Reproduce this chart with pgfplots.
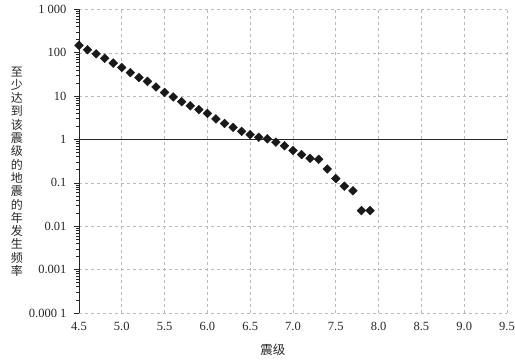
\documentclass[border=0pt]{standalone}
\usepackage{pgfplots}
\pgfplotsset{compat=1.18}
\usepackage{fontspec}
\setmainfont{Liberation Serif}
\newfontfamily\cjk{Noto Sans CJK SC}
\begin{document}
\begin{tikzpicture}
\begin{axis}[
  at={(0pt,0pt)}, anchor=south west,
  width=428pt, height=303.5pt, scale only axis,
  ymode=log, ymin=1e-4, ymax=1e3,
  xmin=4.5, xmax=9.5,
  /pgf/number format/assume math mode=true,
  xtick={4.5,5,5.5,6,6.5,7,7.5,8,8.5,9,9.5},
  xticklabels={4.5,5.0,5.5,6.0,6.5,7.0,7.5,8.0,8.5,9.0,9.5},
  ytick={1e-4,1e-3,1e-2,1e-1,1,10,100,1000},
  yticklabels={0.000\hspace{0.25em}1,0.001,0.01,0.1,1,10,100,1\hspace{0.25em}000},
  tick label style={font=\fontsize{12.5}{14}\selectfont, text=black!85},
  axis y line*=left, axis x line*=bottom,
  axis line style={-},
  x axis line style={draw=none},
  y axis line style={black!85, line width=0.9pt},
  xtick style={draw=none},
  ytick style={black!85, line width=0.8pt},
  tick align=outside, major tick length=5pt,
  minor tick num=0,
  grid=major,
  major grid style={dashed, gray!55, dash pattern=on 3pt off 3pt, line width=0.6pt},
  xticklabel style={yshift=-1pt},
  yticklabel style={xshift=-4pt},
  xlabel={震级},
  xlabel style={font=\cjk\fontsize{12.5}{14}\selectfont, text=black!85, at={(axis description cs:0.453,0)}, anchor=center, yshift=-37pt},
  ylabel={至\\少\\达\\到\\该\\震\\级\\的\\地\\震\\的\\年\\发\\生\\频\\率},
  ylabel style={font=\cjk\fontsize{12}{13.3}\selectfont, text=black!85, align=center, rotate=-90, at={(axis description cs:-0.145,0.466)}, anchor=center},
  clip=false,
]
\draw[black!85, line width=0.9pt] (axis cs:4.5,1) -- (axis cs:9.5,1);
\addplot[only marks, mark=square*, mark size=3.1pt, color=black!90, mark options={rotate=45, fill=black!90}] coordinates {
(4.5,149) (4.6,118) (4.7,95) (4.8,75) (4.9,58) (5.0,46) (5.1,35) (5.2,27) (5.3,22) (5.4,16.3)
(5.5,12.2) (5.6,9.6) (5.7,7.5) (5.8,6.0) (5.9,4.9) (6.0,4.0) (6.1,3.0) (6.2,2.36) (6.3,1.91) (6.4,1.55)
(6.5,1.30) (6.6,1.13) (6.7,1.04) (6.8,0.87) (6.9,0.72) (7.0,0.56) (7.1,0.45) (7.2,0.37) (7.3,0.35) (7.4,0.21)
(7.5,0.126) (7.6,0.084) (7.7,0.066) (7.8,0.023) (7.9,0.023)
};
\end{axis}
\pgfresetboundingbox
\useasboundingbox (-79pt,-48pt) rectangle (436pt,313pt);
\end{tikzpicture}
\end{document}
